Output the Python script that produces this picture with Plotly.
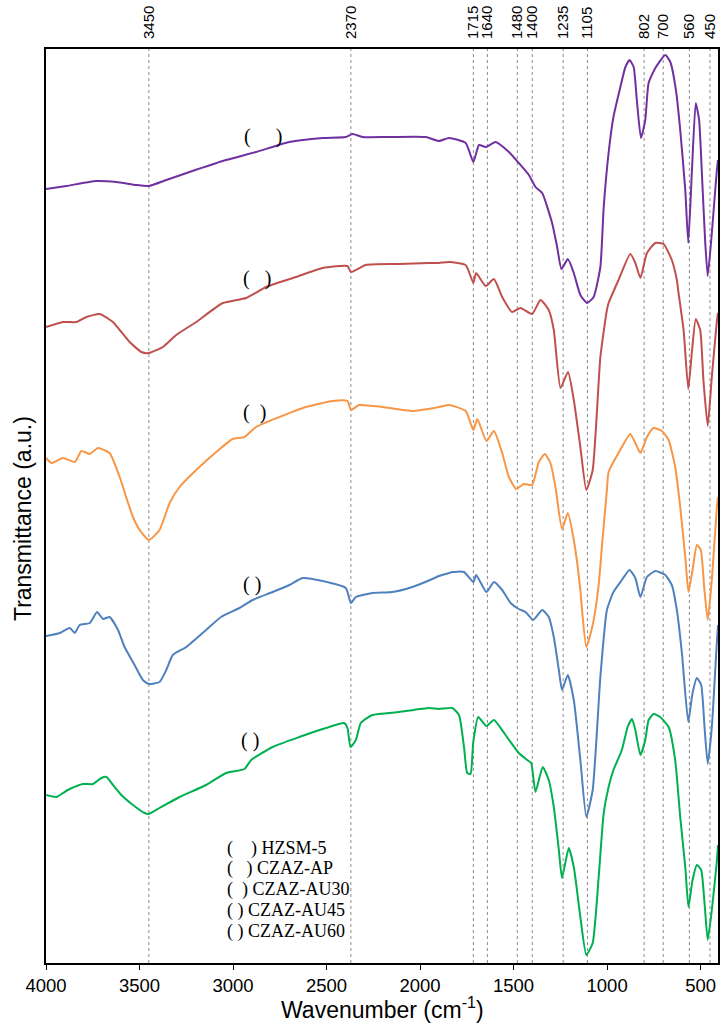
import plotly.graph_objects as go

# FTIR spectra (wavenumber in cm-1, transmittance in arbitrary units, stacked)
wn_hzsm5 = [4000, 3891, 3731, 3624, 3517, 3450, 3357, 3233, 3055, 2877, 2699, 2521, 2397, 2361, 2308,
            2166, 1970, 1899, 1845, 1756, 1715, 1685, 1649, 1596, 1525, 1472, 1418, 1383, 1347, 1294,
            1267, 1244, 1210, 1178, 1143, 1107, 1072, 1036, 1018, 992, 966, 929, 902, 880, 858,
            841, 819, 796, 778, 742, 689, 662, 632, 609, 582, 566, 547, 526, 508, 494,
            476, 462, 440, 414, 407]
t_hzsm5 = [7.76, 7.79, 7.84, 7.83, 7.80, 7.79, 7.85, 7.93, 8.04, 8.13, 8.23, 8.27, 8.28, 8.31, 8.28,
           8.28, 8.28, 8.24, 8.27, 8.22, 8.03, 8.20, 8.18, 8.23, 8.13, 8.02, 7.90, 7.78, 7.72, 7.42,
           7.18, 6.96, 7.06, 6.92, 6.70, 6.62, 6.68, 6.98, 7.58, 8.12, 8.48, 8.78, 8.98, 9.05, 8.98,
           8.65, 8.27, 8.45, 8.82, 8.97, 9.10, 9.03, 8.75, 8.35, 7.75, 7.22, 7.92, 8.62, 8.45, 7.95,
           7.25, 6.89, 7.32, 7.93, 8.05]

wn_ap = [4000, 3909, 3837, 3784, 3713, 3642, 3606, 3553, 3490, 3450, 3375, 3304, 3197, 3055, 2930,
         2823, 2663, 2521, 2388, 2370, 2290, 2112, 1952, 1899, 1845, 1756, 1715, 1700, 1649, 1605,
         1561, 1508, 1463, 1401, 1356, 1312, 1285, 1249, 1209, 1178, 1143, 1111, 1077, 1036, 1001,
         992, 939, 876, 849, 822, 787, 742, 698, 654, 627, 618, 591, 566, 547, 526,
         502, 485, 462, 440, 414, 407]
t_ap = [6.38, 6.43, 6.43, 6.48, 6.51, 6.43, 6.35, 6.23, 6.13, 6.12, 6.18, 6.30, 6.43, 6.62, 6.67,
        6.78, 6.88, 6.97, 6.99, 6.93, 7.00, 7.01, 7.02, 7.02, 7.03, 7.00, 6.82, 6.92, 6.79, 6.86,
        6.68, 6.53, 6.57, 6.51, 6.65, 6.55, 6.35, 5.77, 5.93, 5.65, 5.18, 4.75, 4.95, 6.08, 6.55,
        6.62, 6.85, 7.11, 7.02, 6.87, 7.12, 7.22, 7.21, 7.05, 6.85, 6.72, 6.35, 5.76, 6.12, 6.46,
        6.35, 5.85, 5.39, 5.88, 6.42, 6.52]

wn_au30 = [4000, 3971, 3909, 3846, 3811, 3766, 3722, 3660, 3606, 3570, 3535, 3499, 3450, 3393, 3339,
           3286, 3197, 3090, 3002, 2939, 2877, 2752, 2610, 2468, 2388, 2370, 2326, 2201, 2041, 1899,
           1845, 1756, 1715, 1694, 1645, 1605, 1561, 1525, 1486, 1445, 1401, 1365, 1333, 1303, 1276,
           1241, 1210, 1178, 1143, 1134, 1111, 1077, 1045, 1027, 1001, 992, 939, 876, 849, 822,
           787, 751, 707, 671, 636, 609, 582, 565, 543, 520, 499, 481, 462, 440, 414,
           407]
t_au30 = [5.07, 5.02, 5.07, 5.03, 5.14, 5.11, 5.17, 5.12, 4.88, 4.67, 4.48, 4.35, 4.25, 4.35, 4.62,
          4.78, 4.95, 5.13, 5.26, 5.28, 5.38, 5.48, 5.58, 5.64, 5.64, 5.55, 5.60, 5.58, 5.54, 5.58,
          5.60, 5.54, 5.35, 5.46, 5.24, 5.34, 5.12, 4.88, 4.76, 4.81, 4.80, 5.03, 5.11, 5.02, 4.78,
          4.36, 4.52, 4.25, 3.75, 3.55, 3.18, 3.40, 3.80, 4.20, 4.75, 4.93, 5.12, 5.31, 5.22, 5.12,
          5.28, 5.37, 5.34, 5.25, 4.98, 4.58, 4.08, 3.73, 3.95, 4.20, 4.15, 3.78, 3.45, 3.85, 4.55,
          4.68]

wn_au45 = [4000, 3926, 3873, 3846, 3820, 3766, 3727, 3695, 3660, 3615, 3580, 3535, 3482, 3450, 3393,
           3357, 3322, 3250, 3144, 3064, 2966, 2895, 2788, 2699, 2628, 2521, 2397, 2370, 2343, 2255,
           2148, 2041, 1934, 1899, 1845, 1828, 1765, 1715, 1700, 1645, 1605, 1561, 1516, 1472, 1436,
           1395, 1347, 1312, 1285, 1258, 1241, 1210, 1178, 1143, 1111, 1077, 1036, 1001, 966, 921,
           880, 849, 822, 787, 742, 689, 654, 627, 600, 566, 543, 520, 497, 479, 462,
           440, 414, 407]
t_au45 = [3.29, 3.32, 3.37, 3.32, 3.40, 3.42, 3.53, 3.46, 3.48, 3.35, 3.18, 3.03, 2.85, 2.81, 2.83,
          2.95, 3.10, 3.18, 3.35, 3.48, 3.57, 3.65, 3.73, 3.80, 3.87, 3.84, 3.77, 3.62, 3.68, 3.72,
          3.73, 3.78, 3.86, 3.89, 3.92, 3.93, 3.93, 3.83, 3.90, 3.73, 3.83, 3.75, 3.62, 3.56, 3.53,
          3.45, 3.55, 3.48, 3.28, 2.95, 2.75, 2.90, 2.65, 2.05, 1.48, 1.75, 2.88, 3.55, 3.73, 3.85,
          3.95, 3.87, 3.68, 3.88, 3.94, 3.90, 3.80, 3.55, 3.12, 2.43, 2.72, 2.87, 2.80, 2.38, 2.01,
          2.38, 3.20, 3.40]

wn_au60 = [4000, 3944, 3909, 3873, 3802, 3749, 3704, 3677, 3650, 3597, 3535, 3473, 3450, 3393, 3286,
           3144, 3037, 2939, 2903, 2788, 2646, 2503, 2406, 2388, 2372, 2343, 2317, 2255, 2112, 1952,
           1899, 1828, 1792, 1765, 1748, 1730, 1716, 1689, 1645, 1605, 1543, 1472, 1427, 1406, 1383,
           1344, 1312, 1285, 1258, 1241, 1205, 1178, 1143, 1111, 1077, 1045, 1018, 992, 966, 921,
           890, 867, 849, 822, 796, 778, 751, 716, 671, 636, 609, 582, 565, 543, 520,
           497, 479, 462, 440, 414, 407]
t_au60 = [1.70, 1.68, 1.72, 1.76, 1.81, 1.81, 1.87, 1.88, 1.82, 1.70, 1.60, 1.52, 1.51, 1.57, 1.68,
          1.80, 1.92, 1.96, 2.05, 2.18, 2.28, 2.37, 2.42, 2.37, 2.18, 2.25, 2.42, 2.50, 2.53, 2.57,
          2.56, 2.57, 2.50, 2.18, 1.92, 1.91, 2.22, 2.48, 2.39, 2.45, 2.30, 2.12, 2.05, 2.02, 1.73,
          1.98, 1.85, 1.58, 1.15, 0.87, 1.17, 0.98, 0.48, 0.10, 0.22, 0.88, 1.52, 1.78, 1.95, 2.15,
          2.38, 2.46, 2.35, 2.10, 2.25, 2.45, 2.51, 2.48, 2.38, 2.05, 1.48, 0.98, 0.58, 0.85, 1.00,
          0.95, 0.62, 0.25, 0.55, 1.02, 1.20]

series_names = ["HZSM-5", "CZAZ-AP", "CZAZ-AU30", "CZAZ-AU45", "CZAZ-AU60"]
series_colors = ["#7030A0", "#C0504D", "#F79646", "#4F81BD", "#00B050"]
series_x = [wn_hzsm5, wn_ap, wn_au30, wn_au45, wn_au60]
series_y = [t_hzsm5, t_ap, t_au30, t_au45, t_au60]

# Band positions marked on top
band_positions = [3450, 2370, 1715, 1640, 1480, 1400, 1235, 1105, 802, 700, 560, 450]

# Curve tags (wavenumber of left edge, transmittance, text)
NB = "\u00a0"
tag_x = [2950, 2955, 2960, 2960, 2970]
tag_y = [8.29, 6.87, 5.53, 3.81, 2.25]
tag_text = ["(" + NB * 5 + ")", "(" + NB * 3 + ")", "(" + NB * 2 + ")",
            "(" + NB + ")", "(" + NB + ")"]

# Legend text rows
legend_rows = ["(" + NB * 4 + ") HZSM-5", "(" + NB * 3 + ") CZAZ-AP", "(" + NB * 2 + ") CZAZ-AU30",
               "(" + NB + ") CZAZ-AU45", "(" + NB + ") CZAZ-AU60"]

W, H = 721, 1024
ML, MR, MT, MB = 46, 1, 49, 61
SANS = "Arial, Liberation Sans, sans-serif"
SERIF = "Times New Roman, Liberation Serif, serif"

fig = go.Figure()
for name, color, xs, ys in zip(series_names, series_colors, series_x, series_y):
    fig.add_trace(go.Scatter(x=xs, y=ys, mode="lines", name=name,
                             line=dict(color=color, width=2, shape="spline", smoothing=0.5),
                             showlegend=False))
# carrier for the top band axis
fig.add_trace(go.Scatter(x=[4000, 407], y=[None, None], xaxis="x2", mode="lines",
                         showlegend=False, hoverinfo="skip"))

shapes = []
annotations = []
for b in band_positions:
    shapes.append(dict(type="line", xref="x", yref="paper", x0=b, x1=b, y0=0, y1=1,
                       line=dict(color="#8a8a8a", width=1, dash="dot"), layer="below"))

for tx, ty, tt in zip(tag_x, tag_y, tag_text):
    annotations.append(dict(x=tx, y=ty, xref="x", yref="y", text=tt, showarrow=False,
                            xanchor="left", yanchor="middle",
                            font=dict(family=SERIF, size=20, color="black")))

plot_h = H - MT - MB
for i, row in enumerate(legend_rows):
    ypix = 848 + i * 20.75
    annotations.append(dict(x=(226 - ML) / (W - ML - MR), xref="paper",
                            y=(H - MB - ypix) / plot_h, yref="paper", text=row,
                            showarrow=False, xanchor="left", yanchor="middle",
                            font=dict(family=SERIF, size=18, color="black")))

# Axis titles
annotations.append(dict(x=0.5, xref="paper", y=(H - MB - 1008) / plot_h, yref="paper",
                        text="Wavenumber (cm<sup>-1</sup>)", showarrow=False,
                        xanchor="center", yanchor="middle",
                        font=dict(family=SANS, size=23, color="black")))
annotations.append(dict(x=(23 - ML) / (W - ML - MR), xref="paper",
                        y=(H - MB - 519) / plot_h, yref="paper",
                        text="Transmittance (a.u.)", showarrow=False, textangle=-90,
                        xanchor="center", yanchor="middle",
                        font=dict(family=SANS, size=23, color="black")))

fig.update_layout(
    width=W, height=H,
    margin=dict(l=ML, r=MR, t=MT, b=MB),
    paper_bgcolor="white", plot_bgcolor="white",
    shapes=shapes, annotations=annotations,
    xaxis=dict(range=[4000, 407], tickvals=[4000, 3500, 3000, 2500, 2000, 1500, 1000, 500],
               ticks="outside", ticklen=5, tickwidth=1, tickcolor="black",
               showline=True, linecolor="black", linewidth=2, mirror=True,
               showgrid=False, zeroline=False,
               tickfont=dict(family=SANS, size=18.5, color="black")),
    xaxis2=dict(range=[4000, 407], overlaying="x", side="top", anchor="y",
                tickvals=band_positions, ticktext=[str(b) for b in band_positions],
                tickangle=-90, ticks="outside", ticklen=6, tickcolor="rgba(0,0,0,0)",
                showline=False, showgrid=False, zeroline=False,
                tickfont=dict(family=SANS, size=15, color="black")),
    yaxis=dict(range=[0.02, 9.16], showticklabels=False, ticks="",
               showline=True, linecolor="black", linewidth=2, mirror=True,
               showgrid=False, zeroline=False),
)

fig.write_html("out.html")
